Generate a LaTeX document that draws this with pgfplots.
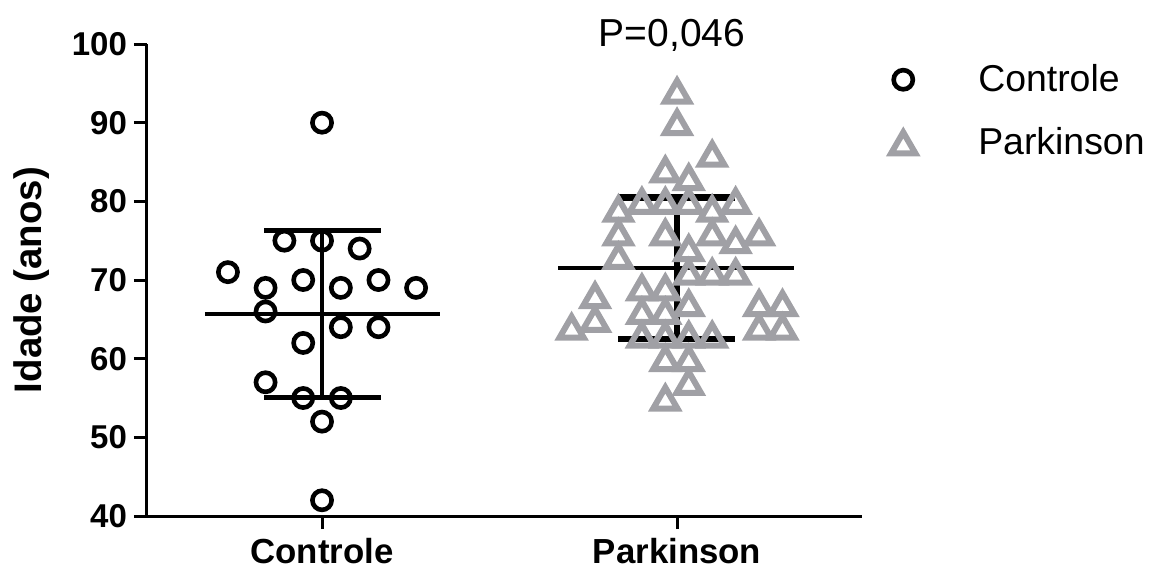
\documentclass[border=0pt]{standalone}
\usepackage{pgfplots}
\pgfplotsset{compat=1.18}
\usepackage{fontspec}
\setmainfont{Liberation Sans}
\definecolor{pgray}{RGB}{160,160,165}
\begin{document}
\begin{tikzpicture}
\path[use as bounding box] (-73.5pt,-27pt) rectangle (501pt,258pt);
\begin{axis}[
  scale only axis, width=357.5pt, height=236pt,
  xmin=-0.493, xmax=1.521, ymin=40, ymax=100,
  axis x line*=bottom, axis y line*=left,
  axis line style={-, line width=1.5pt},
  every tick/.style={black, line width=1.5pt},
  tick align=outside, major tick length=6.5pt,
  xtick={0,1}, xticklabels={Controle,Parkinson},
  ytick={40,50,...,100},
  /pgf/number format/assume math mode=true,
  yticklabel style={font=\fontsize{16.5}{19}\selectfont\bfseries},
  xticklabel style={font=\fontsize{17.4}{20}\selectfont\bfseries, yshift=-1pt},
  ylabel={Idade (anos)},
  ylabel style={font=\fontsize{19.2}{22}\selectfont\bfseries, at={(axis description cs:-0.162,0.5)}, anchor=center},
  clip=false,
  legend style={draw=none, fill=none, at={(1.011,0.974)}, anchor=north west,
    font=\fontsize{18.7}{22}\selectfont, row sep=12.5pt, cells={anchor=west}},
  legend image code/.code={\path (-12pt,0pt) (34pt,0pt); \draw[#1] plot coordinates {(0pt,0pt)};},
]
\addplot[only marks, mark=o, mark size=4.8pt, line width=2.3pt, black] coordinates {
(0,90)
(-0.106,75)(0,75)(0.106,74)
(-0.265,71)
(-0.159,69)(0.053,69)(0.265,69)
(-0.053,70)(0.159,70)
(-0.159,66)
(0.053,64)(0.159,64)
(-0.053,62)
(-0.159,57)
(-0.053,55)(0.053,55)
(0,52)
(0,42)
};
\addlegendentry{Controle}
\addplot[only marks, mark=triangle, mark size=7pt, line width=3pt, pgray, mark options={yshift=-1.75pt}] coordinates {
(1.0,94)(1.0,90)(1.099,86)(0.967,84)(1.033,83)
(0.901,80)(0.967,80)(1.033,80)(1.165,80)
(0.835,79)(1.099,79)
(0.835,76)(0.967,76)(1.099,76)(1.231,76)
(1.165,75)
(1.033,74)
(0.835,73)
(1.033,71)(1.099,71)(1.165,71)
(0.901,69)(0.967,69)
(0.769,68)
(1.033,67)(1.231,67)(1.297,67)
(0.901,66)(0.967,66)
(0.769,65)
(0.703,64)(1.231,64)(1.297,64)
(0.901,63)(0.967,63)(1.033,63)(1.099,63)
(0.967,60)(1.033,60)
(1.033,57)
(0.967,55)
};
\addlegendentry{Parkinson}
% Controle mean and SD
\addplot[forget plot, black, line width=2pt] coordinates {(-0.33,65.7) (0.332,65.7)};
\addplot[forget plot, black, line width=2.2pt] coordinates {(0,55.1) (0,76.3)};
\addplot[forget plot, black, line width=2.5pt] coordinates {(-0.163,76.3) (0.166,76.3)};
\addplot[forget plot, black, line width=2.5pt] coordinates {(-0.163,55.1) (0.166,55.1)};
% Parkinson mean and SD
\addplot[forget plot, black, line width=2pt] coordinates {(0.665,71.5) (1.33,71.5)};
\addplot[forget plot, black, line width=2.6pt] coordinates {(1,62.5) (1,80.5)};
\addplot[forget plot, black, line width=3.2pt] coordinates {(0.834,80.5) (1.163,80.5)};
\addplot[forget plot, black, line width=3.2pt] coordinates {(0.834,62.5) (1.163,62.5)};
\node[font=\fontsize{19.5}{23}\selectfont] at (axis cs:0.986,101.1) {P=0,046};
\end{axis}
\end{tikzpicture}
\end{document}
